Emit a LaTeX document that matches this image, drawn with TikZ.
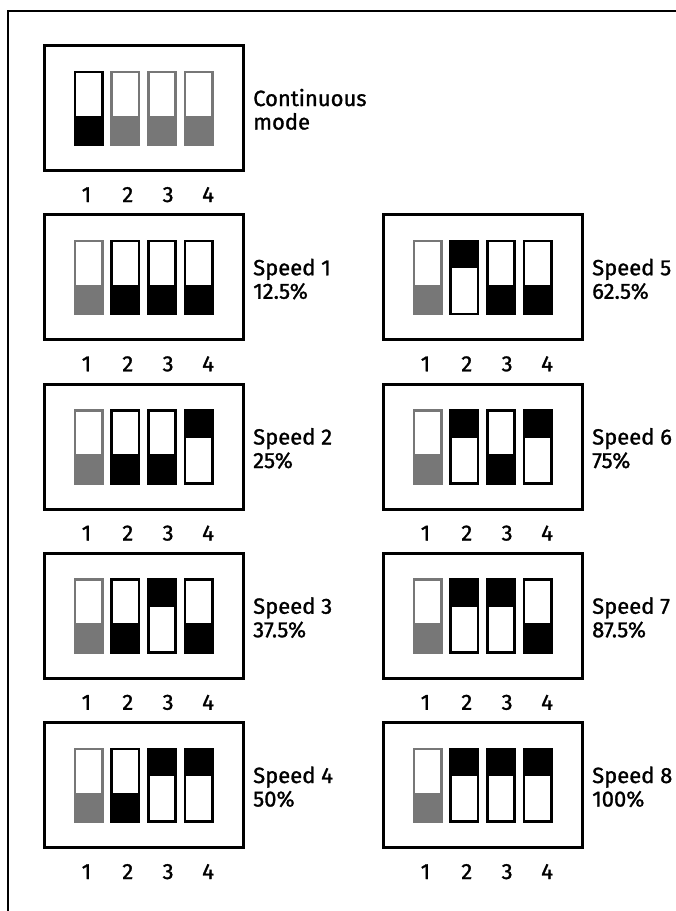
\documentclass[tikz,border=0pt]{standalone}
\usepackage{fontspec}
\setmainfont{Fira Sans}[RawFeature={embolden=1.2}]
\definecolor{swgray}{HTML}{777777}
\tikzset{
  frame/.style={line width=1.8pt, black},
  dipbox/.style={line width=3pt, black},
  swk/.style={line width=2.6pt, draw=black},
  swg/.style={line width=2.6pt, draw=swgray},
  lbl/.style={anchor=base west, inner sep=0pt, font=\fontsize{22}{24}\selectfont},
  num/.style={anchor=base, inner sep=0pt, font=\fontsize{22}{22}\selectfont},
}
% one switch: #1 name, #2 x, #3 y, #4 state (k = black down, g = gray down, u = black up)
\newcommand\dipsw[4]{%
  \def\st{#4}%
  \def\kk{k}\def\gg{g}\def\uu{u}%
  \ifx\st\gg
    \fill[swgray] (#2,#3+45) rectangle (#2+30,#3+75.5);
    \draw[swg] (#2+1.3,#3+1.3) rectangle (#2+28.7,#3+74.2);
  \else\ifx\st\kk
    \fill[black] (#2,#3+45) rectangle (#2+30,#3+75.5);
    \draw[swk] (#2+1.3,#3+1.3) rectangle (#2+28.7,#3+74.2);
  \else
    \fill[black] (#2,#3) rectangle (#2+30,#3+28.5);
    \draw[swk] (#2+1.3,#3+1.3) rectangle (#2+28.7,#3+74.2);
  \fi\fi
  \coordinate (#1) at (#2+15,#3+37.75);
}
% a box: #1 name, #2 x left, #3 y top, #4-#7 states, #8 line 1, #9 line 2
\newcommand\dipunit[9]{%
  \draw[dipbox] (#2+1.5,#3+1.5) rectangle (#2+200.5,#3+126.5);
  \coordinate (#1) at (#2,#3);
  \dipsw{#1s1}{#2+31}{#3+26.5}{#4}
  \dipsw{#1s2}{#2+67.7}{#3+26.5}{#5}
  \dipsw{#1s3}{#2+104.4}{#3+26.5}{#6}
  \dipsw{#1s4}{#2+141.1}{#3+26.5}{#7}
  \node[num] (#1n1) at (#2+44,#3+158) {1};
  \node[num] (#1n2) at (#2+85.3,#3+158) {2};
  \node[num] (#1n3) at (#2+125.6,#3+158) {3};
  \node[num] (#1n4) at (#2+165.6,#3+158) {4};
  \node[lbl] (#1la) at (#2+210.5,#3+62) {#8};
  \node[lbl] (#1lb) at (#2+210.5,#3+85.5) {#9};
}
\begin{document}
\begin{tikzpicture}[x=1pt,y=-1pt]
\useasboundingbox (0,0) rectangle (676,911);
\coordinate (ftr) at (676,11);
\coordinate (ftl) at (8,11);
\coordinate (fbl) at (8,911);
\draw[frame] (ftr) -- (ftl) -- (fbl);
\dipunit{c}{42.5}{44}{k}{g}{g}{g}{Continuous}{mode}
\dipunit{a}{42.5}{213.25}{g}{k}{k}{k}{Speed 1}{12.5\%}
\dipunit{b}{42.5}{382.5}{g}{k}{k}{u}{Speed 2}{25\%}
\dipunit{d}{42.5}{551.75}{g}{k}{u}{k}{Speed 3}{37.5\%}
\dipunit{e}{42.5}{721}{g}{k}{u}{u}{Speed 4}{50\%}
\dipunit{f}{381.5}{213.25}{g}{u}{k}{k}{Speed 5}{62.5\%}
\dipunit{g}{381.5}{382.5}{g}{u}{k}{u}{Speed 6}{75\%}
\dipunit{h}{381.5}{551.75}{g}{u}{u}{k}{Speed 7}{87.5\%}
\dipunit{i}{381.5}{721}{g}{u}{u}{u}{Speed 8}{100\%}
\end{tikzpicture}
\end{document}
